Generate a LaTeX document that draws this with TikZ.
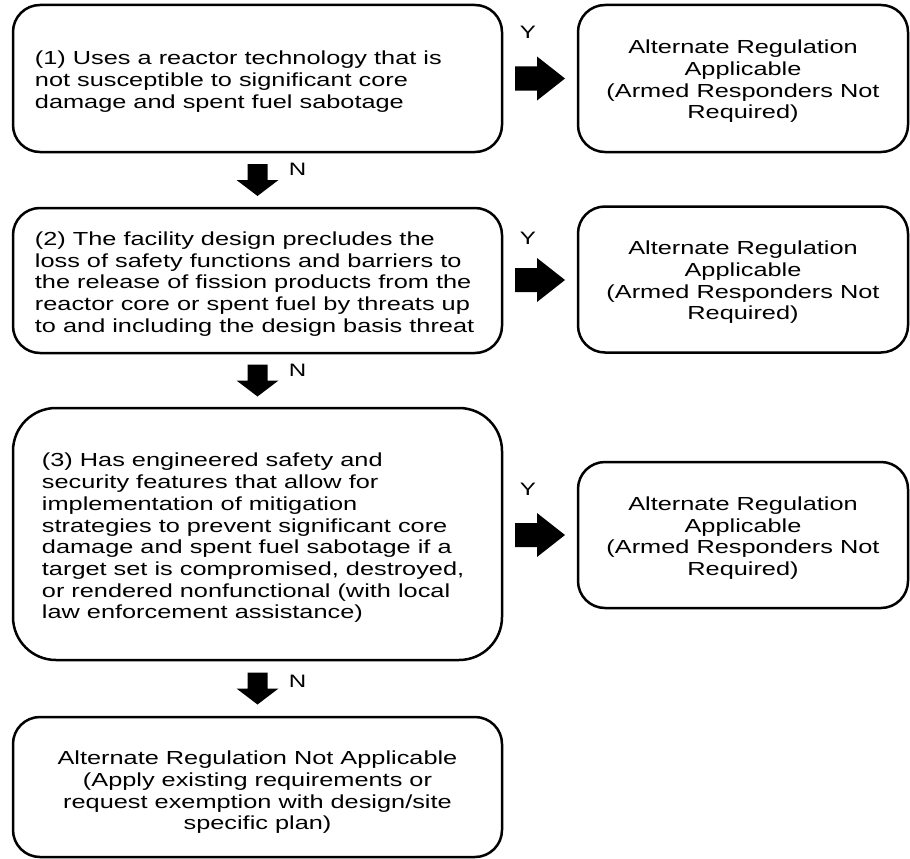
\documentclass[tikz,border=0pt]{standalone}
\usepackage{fontspec}
\setmainfont{Liberation Sans}[FakeStretch=1.34]
\usetikzlibrary{calc}
\begin{document}
\begin{tikzpicture}[x=1pt,y=-1pt,
  box/.style={draw=black, line width=2.5pt, rounded corners=27pt, inner sep=0pt},
  txt/.style={font=\fontsize{18.9}{21.7}\selectfont, align=left, inner sep=0pt, anchor=west},
  ctxt/.style={font=\fontsize{18.9}{21.7}\selectfont, align=center, inner sep=0pt},
  lbl/.style={font=\fontsize{18}{20}\selectfont, inner sep=0pt},
  rarrow/.pic={\fill (-25,-12) -- (-3,-12) -- (-3,-22) -- (25,0) -- (-3,22) -- (-3,12) -- (-25,12) -- cycle;},
  darrow/.pic={\fill (-10,-16) -- (10,-16) -- (10,0) -- (21,0) -- (0,16) -- (-21,0) -- (-10,0) -- cycle;}
]
\useasboundingbox (0,0) rectangle (910,859);

% decision boxes (left column)
\node[box, minimum width=489pt, minimum height=147pt] (q1) at (257.5,78.5) {};
\node[box, minimum width=489pt, minimum height=145pt] (q2) at (257.5,280.5) {};
\node[box, minimum width=489pt, minimum height=252pt, rounded corners=43pt] (q3) at (257.5,534) {};
\node[box, minimum width=489pt, minimum height=140pt] (q4) at (257.5,787) {};

\node[txt] (t1) at ($(q1.west)+(23,3)$) {(1) Uses a reactor technology that is\\not susceptible to significant core\\damage and spent fuel sabotage};
\node[txt] (t2) at ($(q2.west)+(23,3.5)$) {(2) The facility design precludes the\\loss of safety functions and barriers to\\the release of fission products from the\\reactor core or spent fuel by threats up\\to and including the design basis threat};
\node[txt] (t3) at ($(q3.west)+(30,4)$) {(3) Has engineered safety and\\security features that allow for\\implementation of mitigation\\strategies to prevent significant core\\damage and spent fuel sabotage if a\\target set is compromised, destroyed,\\or rendered nonfunctional (with local\\law enforcement assistance)};
\node[ctxt] (t4) at ($(q4.center)+(0,5.5)$) {Alternate Regulation Not Applicable\\(Apply existing requirements or\\request exemption with design/site\\specific plan)};

% outcome boxes (right column)
\node[box, ctxt, minimum width=330pt, minimum height=147pt] (a1) at (743,78.5) {};
\node[box, ctxt, minimum width=330pt, minimum height=146pt] (a2) at (743,279.5) {};
\node[box, ctxt, minimum width=330pt, minimum height=146pt] (a3) at (743,535) {};
\node[ctxt] (r1) at ($(a1.center)+(0,3)$) {Alternate Regulation\\Applicable\\(Armed Responders Not\\Required)};
\node[ctxt] (r2) at ($(a2.center)+(0,3)$) {Alternate Regulation\\Applicable\\(Armed Responders Not\\Required)};
\node[ctxt] (r3) at ($(a3.center)+(0,3)$) {Alternate Regulation\\Applicable\\(Armed Responders Not\\Required)};

% "yes" arrows
\coordinate (y1) at ($(q1.east)!0.5!(a1.west)$);
\coordinate (y2) at ($(q2.east)!0.5!(a2.west)$);
\coordinate (y3) at ($(q3.east |- a3.west)!0.5!(a3.west)$);
\pic at (y1) {rarrow};
\pic at (y2) {rarrow};
\pic at (y3) {rarrow};
\node[lbl] (ly1) at ($(y1)+(-12,-46)$) {Y};
\node[lbl] (ly2) at ($(y2)+(-12,-42)$) {Y};
\node[lbl] (ly3) at ($(y3)+(-12,-46)$) {Y};

% "no" arrows
\coordinate (n1) at ($(q1.south)!0.5!(q2.north)$);
\coordinate (n2) at ($(q2.south)!0.5!(q3.north)$);
\coordinate (n3) at ($(q3.south)!0.5!(q4.north)$);
\pic at (n1) {darrow};
\pic at (n2) {darrow};
\pic at (n3) {darrow};
\node[lbl] (ln1) at ($(n1)+(40,-11)$) {N};
\node[lbl] (ln2) at ($(n2)+(40,-10)$) {N};
\node[lbl] (ln3) at ($(n3)+(40,-7)$) {N};
\end{tikzpicture}
\end{document}
